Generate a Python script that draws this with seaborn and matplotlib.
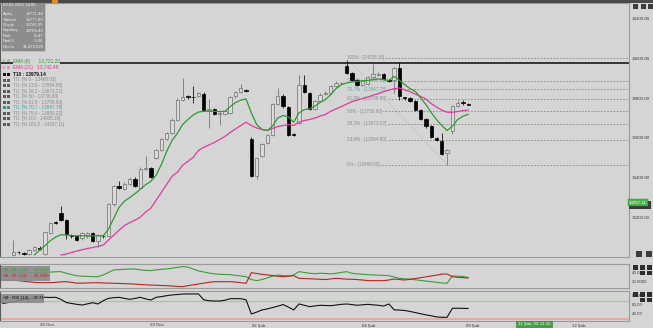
import numpy as np
import pandas as pd
import matplotlib
matplotlib.use("Agg")
import matplotlib.pyplot as plt
import matplotlib.transforms as mtransforms
from matplotlib.patches import Rectangle
import seaborn as sns

nan = np.nan

# ---------------- data ----------------
opens = [13015, 13030, 13026, 13018.5, 13040, 13052, 13020, 13123.5, 13180, 13225,
         13190, 13113, 13108.5, 13098.5, 13108.5, 13123.5, 13083.5, 13112, 13111.5, 13270,
         13361, 13348.5, 13373.5, 13398.5, 13353.5, 13446, 13453.5, 13503.5, 13541.5, 13598.5,
         13625, 13691.5, 13795, 13812, 13810, 13815, 13825, 13741.5, 13748.5, 13722,
         13725, 13728.5, 13811.5, 13831.5, 13845, 13598.5, 13411.5, 13511.5, 13575, 13615,
         13773.5, 13815, 13756.5, 13620, 13678.5, 13870, 13828.5, 13748.5, 13786.5, 13823.5,
         13828.5, 13865, 13876, 13961.5, 13928.5, 13891.5, 13870, 13875, 13908.5, 13920,
         13925, 13895, 13895, 13953.5, 13806, 13803.5, 13786.5, 13745, 13698.5, 13665,
         13601.5, 13586.5, 13528.5, 13636.5, 13765, 13783, 13771.44]
highs = [13091.5, 13036, 13030, 13046, 13060, 13058, 13133, 13180, 13186, 13261.5,
         13195, 13118, 13112, 13133, 13130, 13130, 13122, 13116, 13276, 13368,
         13386.5, 13379, 13405, 13405, 13455, 13511.5, 13458, 13546, 13601, 13631,
         13701, 13801, 13903.5, 13820, 13861.5, 13835, 13831, 13798.5, 13752, 13733,
         13742, 13813, 13838, 13875, 13850, 13605, 13508, 13578, 13620, 13778,
         13853.5, 13822, 13762, 13625, 13920, 13920, 13835, 13792, 13826, 13838,
         13870, 13888, 13882, 13995, 13935, 13898, 13895, 13913, 13975, 13932,
         13930, 13900, 13960, 13981.5, 13810, 13808, 13792, 13750, 13703, 13670,
         13605, 13628.5, 13548, 13768, 13791.5, 13795, 13777.83]
lows = [13010, 13022, 13016, 13014, 13036, 13042, 13015, 13118, 13170, 13188,
        13095, 13102, 13085, 13090, 13100, 13080, 13053.5, 13100, 13105, 13262,
        13345, 13343, 13368, 13356, 13350, 13440, 13404, 13498, 13537, 13593,
        13620, 13687, 13790, 13800, 13780, 13810, 13740, 13653.5, 13720, 13670,
        13720, 13722, 13805, 13828, 13832, 13405, 13395, 13507, 13570, 13611,
        13770, 13755, 13611, 13611, 13672, 13827, 13742, 13742, 13782, 13818,
        13822, 13860, 13872, 13922, 13890, 13865, 13865, 13870, 13903, 13915,
        13895, 13885, 13828.5, 13795, 13795, 13782, 13740, 13692, 13655, 13603,
        13588, 13515, 13468, 13620, 13760, 13770, 13765.95]
closes = [13031.5, 13028, 13021, 13040, 13053.5, 13047, 13128.5, 13173.5, 13176, 13191.5,
          13120, 13110, 13091.5, 13125, 13123.5, 13086.5, 13116.5, 13108, 13270, 13361.5,
          13352, 13373.5, 13398.5, 13361.5, 13448.5, 13451, 13408.5, 13540, 13595, 13625,
          13695, 13795, 13808.5, 13808, 13806, 13828.5, 13745, 13745, 13725, 13728,
          13736.5, 13808.5, 13831.5, 13853.5, 13836.5, 13411.5, 13503.5, 13573.5, 13615, 13773.5,
          13815, 13761.5, 13616.5, 13616, 13870, 13831.5, 13748.5, 13786.5, 13820, 13828.5,
          13865, 13878.5, 13878, 13928.5, 13895, 13870, 13886.5, 13908.5, 13925, 13925,
          13900, 13890, 13953.5, 13811.5, 13803, 13786.5, 13745, 13698.5, 13661.5, 13608.5,
          13591.5, 13520, 13541.5, 13761.5, 13778.5, 13778, 13769.43]

ema8 = [nan, nan, nan, nan,
        13015, 13040, 13062, 13087, 13105, 13117, 13115, 13112.5, 13111.5, 13111.5,
        13111.5, 13111.5, 13111.5, 13111.5, 13145, 13200, 13255, 13285, 13303.5, 13322.5,
        13345, 13367.5, 13385, 13415, 13470, 13535, 13590, 13625, 13670, 13695,
        13717.5, 13732.5, 13736.5, 13736.5, 13736.5, 13735, 13736.5, 13760, 13780, 13792.5,
        13798.5, 13728.5, 13670, 13645, 13640, 13661.5, 13703.5, 13715, 13708.5, 13681.5,
        13728.5, 13745, 13748.5, 13761.5, 13781.5, 13795, 13820, 13850, 13870, 13878.5,
        13883.5, 13886.5, 13890, 13891.5, 13895, 13898.5, 13895, 13891.5, 13911.5, 13891.5,
        13870, 13850, 13836.5, 13803.5, 13770, 13730, 13695, 13665, 13640, 13661.5,
        13695, 13711.5, 13721.23]
ema21 = [nan, nan, nan, nan, nan, nan, nan, nan, nan,
         13015, 13020, 13027.5, 13035, 13041.5, 13047.5, 13052.5, 13058.5, 13065, 13090,
         13115, 13140, 13162.5, 13177.5, 13190, 13205, 13230, 13250, 13290, 13330,
         13370, 13410, 13430, 13465, 13485, 13505, 13540, 13555, 13567.5, 13580,
         13595, 13610, 13630, 13647.5, 13665, 13681.5, 13665, 13652.5, 13645, 13640,
         13650, 13660, 13665, 13670, 13665, 13682.5, 13690, 13695, 13702.5, 13712.5,
         13720, 13736.5, 13748.5, 13760, 13772.5, 13785, 13792.5, 13800, 13807.5, 13817.5,
         13825, 13835, 13842.5, 13850, 13853.5, 13843.5, 13835, 13822.5, 13811.5, 13797.5,
         13775, 13757.5, 13742.5, 13731.5, 13731.5, 13735, 13740, 13742.48]

ind_bars = list(range(-2, 87))
di_plus = [43.8, 43.5, 43, 42.6, 42.3, 42, 41.7, 41.4, 42, 42.8, 43.5, 43.8, 40, 37, 34,
           33, 32.5, 32, 31.9, 36, 42, 48, 48.5, 49.5, 50, 50.2, 48, 47, 46.2, 48,
           49.5, 50.2, 52, 54, 55.7, 54.5, 50, 45.5, 43, 40.5, 38.5, 37.5, 37, 36.7, 35,
           33.5, 32, 25, 22.4, 25, 29, 33, 36, 34.5, 33.6, 36, 43.8, 42, 40, 39,
           40, 39.5, 38.5, 40, 42, 43.8, 40, 38.5, 37.5, 36.7, 36, 35.5, 35, 34.3, 31,
           28, 27, 26, 24.5, 23, 21.5, 20, 18.5, 17, 16.2, 33.6, 33, 32.5, 30.05]
di_minus = [24, 23.5, 23, 22.4, 21, 19.5, 18.5, 17.6, 17.6, 17.6, 18.5, 19.5, 20, 18.5, 16.5,
            16.5, 17, 17.5, 17.6, 17, 16.5, 16.2, 15.8, 15.3, 14.8, 14.2, 13.3, 12.5, 12, 11.5,
            11, 10.5, 9.7, 8.8, 8.1, 10.5, 12.5, 14.5, 16.5, 18.5, 20, 20, 20, 20, 19,
            17.5, 16.2, 41.4, 39.5, 37.5, 36, 34.5, 33, 31.9, 33, 34.3, 28, 27.5, 27, 26.4,
            25.7, 25, 26.5, 28, 27, 26, 25.7, 25, 24, 22.5, 22.4, 22.4, 22.4, 24, 26.4,
            25, 24, 25.5, 27.5, 29.5, 31.5, 33.6, 35.5, 38, 38.3, 31.9, 30.5, 29.5, 28.78]
rsi = [64, 66, 68, 70, 72, 74, 76, 77, 77.5, 77, 77.5, 73, 66, 64, 62,
       60.6, 63, 65.6, 62.8, 70, 75.2, 76.5, 77.4, 75, 73, 75, 77.4, 74, 71.5, 77.4,
       79, 81, 82.5, 83.5, 84.5, 84.7, 84.7, 84.7, 72, 70, 69.3, 69.3, 71, 74.4, 74.4,
       74.4, 72, 41, 45, 49.8, 52, 55, 58, 61.5, 56, 49.8, 62.8, 60, 57, 58.5,
       60, 59.5, 59.1, 60.5, 62, 62.8, 61.5, 60, 61, 62, 61, 60, 58.4, 62.8, 50,
       49.5, 48.5, 46.5, 44, 41.5, 39, 37, 34.5, 33.7, 33.7, 53.4, 53.5, 53.2, 53]

fib_pcts = ["0", "23.6", "38.2", "50", "61.8", "70.7", "78.6", "100", "161.8"]
fib_vals = [13468.03, 13594.80, 13673.22, 13736.60, 13799.98, 13847.78, 13890.22, 14005.16, 14337.11]
t10_level = 13979.14
price_ticks = [14200, 14000, 13800, 13600, 13400, 13200]
date_labels = ["28 Oca", "29 Oca", "02 Şub", "04 Şub", "09 Şub", "12 Şub"]
date_bars = [6.4, 27.2, 46.3, 67.1, 86.9, 106.9]
info_labels = ["Açılış", "Yüksek", "Düşük", "Kapanış", "Fark", "Fark%", "Hacim"]
info_values = ["13771.44", "13777.83", "13765.95", "13769.43", "-8.47", "-0.06", "31,473,620"]

# ---------------- style ----------------
sns.set_theme(style="white")
plt.rcParams['font.family'] = ['Liberation Sans', 'DejaVu Sans']

W, H = 653, 328
BG = '#d5d5d5'
fig = plt.figure(figsize=(W / 100, H / 100), dpi=100, facecolor=BG)

def fx(x):
    return x / W

def fy(y):
    return 1 - y / H

def axes_px(x0, y0, x1, y1):
    a = fig.add_axes([fx(x0), fy(y1), (x1 - x0) / W, (y1 - y0) / H])
    a.set_facecolor(BG)
    return a

def rect_px(x, y, w, h, fc, ec='none', lw=0.0, alpha=1.0, z=5):
    fig.patches.append(Rectangle((fx(x), fy(y + h)), w / W, h / H, transform=fig.transFigure,
                                 facecolor=fc, edgecolor=ec, linewidth=lw, alpha=alpha,
                                 zorder=z, figure=fig))

def ftext(x, y, s, **kw):
    kw.setdefault('fontsize', 3.4)
    kw.setdefault('va', 'center')
    kw.setdefault('zorder', 8)
    fig.text(fx(x), fy(y), s, **kw)

PX0, PXS = 13.3, 5.29

def bar_at_px(x):
    return (x - PX0) / PXS

xlim = (bar_at_px(0), bar_at_px(629))
YLIM = (13005, 14280)

ax = axes_px(0, 3, 629, 257)
ax1 = axes_px(0, 264, 629, 288)
ax2 = axes_px(0, 291, 629, 321)

for a in (ax, ax1, ax2):
    a.set_xlim(*xlim)
    a.set_xticks([])
    a.set_yticks([])
    for side, sp in a.spines.items():
        sp.set_visible(True)
        sp.set_color('#9a9a9a')
        sp.set_linewidth(0.8)
    a.spines['left'].set_color('#5a5a5a')

ax.set_ylim(*YLIM)
ax1.set_ylim(5, 62)
ax2.set_ylim(25.6, 91.2)

# ---------------- main panel ----------------
bars = np.arange(len(opens))
o = np.array(opens); c = np.array(closes); h = np.array(highs); l = np.array(lows)
up = c >= o
body_lo = np.minimum(o, c)
body_h = np.maximum(np.abs(c - o), 4)

# fibonacci lines and labels
fib_start = bar_at_px(347)
for p, v in zip(fib_pcts, fib_vals):
    if not (YLIM[0] < v < YLIM[1]):
        continue
    col = '#57a9a9' if p == "70.7" else '#8c8c8c'
    ax.hlines(v, fib_start, xlim[1], colors=col, linestyles=(0, (2.2, 1.6)), linewidth=0.6, zorder=1)
    ax.text(fib_start, v, f"{p}% - [{v:.2f}]", fontsize=3.3, color=col, va='center', ha='left',
            zorder=2, clip_on=True, bbox=dict(boxstyle='square,pad=0.15', fc=BG, ec='none'))
ax.plot([63, 82], [fib_vals[7], fib_vals[0]], color='#b3b3b3', linestyle=':', linewidth=0.7, zorder=1)

# T10 horizontal line
ax.axhline(t10_level, color='#1a1a1a', linewidth=1.2, zorder=2)

# candles
ax.vlines(bars[up], l[up], h[up], color='#767676', linewidth=0.6, zorder=3)
ax.vlines(bars[~up], l[~up], h[~up], color='#111111', linewidth=0.6, zorder=3)
ax.bar(bars[up], body_h[up], bottom=body_lo[up], width=0.64, color='#dadada',
       edgecolor='#6e6e6e', linewidth=0.5, zorder=4)
ax.bar(bars[~up], body_h[~up], bottom=body_lo[~up], width=0.64, color='#000000',
       edgecolor='#000000', linewidth=0.5, zorder=4)

# EMAs with seaborn
ema_df = pd.DataFrame({'bar': bars, 'ema8': ema8, 'ema21': ema21})
d8 = ema_df.dropna(subset=['ema8'])
d21 = ema_df.dropna(subset=['ema21'])
sns.lineplot(x=d21['bar'], y=d21['ema21'], ax=ax, color='#e03c9c', linewidth=0.9, zorder=5)
sns.lineplot(x=d8['bar'], y=d8['ema8'], ax=ax, color='#2f9a2f', linewidth=0.9, zorder=6)
ax.set_xlabel(''); ax.set_ylabel('')

# price axis labels
tr = mtransforms.blended_transform_factory(ax.transAxes, ax.transData)
for p in price_ticks:
    ax.text(1.004, p, f"{p:.2f}", transform=tr, fontsize=3.2, va='center', ha='left',
            color='#3a3a3a', clip_on=False)

# ---------------- indicator panels ----------------
ind_df = pd.DataFrame({'bar': ind_bars, 'dip': di_plus, 'dim': di_minus, 'rsi': rsi})
sns.lineplot(data=ind_df, x='bar', y='dip', ax=ax1, color='#3c9b3c', linewidth=0.8)
sns.lineplot(data=ind_df, x='bar', y='dim', ax=ax1, color='#b52424', linewidth=0.8)
ax1.set_xlabel(''); ax1.set_ylabel('')

ax2.axhline(70, color='#8fd38f', linewidth=0.9, zorder=1)
ax2.axhline(30, color='#eaa6a6', linewidth=1.4, zorder=1)
sns.lineplot(data=ind_df, x='bar', y='rsi', ax=ax2, color='#111111', linewidth=0.8, zorder=3)
ax2.set_xlabel(''); ax2.set_ylabel('')

tr1 = mtransforms.blended_transform_factory(ax1.transAxes, ax1.transData)
ax1.text(1.004, 40, "40.00", transform=tr1, fontsize=3.2, va='center', ha='left', color='#3a3a3a', clip_on=False)
ax1.text(1.004, 20, "20.0000", transform=tr1, fontsize=3.2, va='center', ha='left', color='#3a3a3a', clip_on=False)
tr2 = mtransforms.blended_transform_factory(ax2.transAxes, ax2.transData)
for v in (80, 60, 40):
    ax2.text(1.004, v, f"{v:.2f}", transform=tr2, fontsize=3.2, va='center', ha='left',
             color='#3a3a3a', clip_on=False)

# date labels
for pos, lab in zip(date_bars, date_labels):
    ftext(PX0 + PXS * pos, 325.5, lab, fontsize=3.1, ha='center', color='#333333')
ftext(534, 324.5, "11 Şub '26 11:32", fontsize=3.2, ha='center', color='white',
      bbox=dict(boxstyle='square,pad=0.3', fc='#45a045', ec='#2e7d2e', lw=0.4))

# ---------------- overlays ----------------
rect_px(0, 0, W, 2.5, '#4a4a4a', z=1)
rect_px(52, 0, 6, 2.5, '#e08a2a', z=2)

# info box
rect_px(1.5, 2.5, 43.5, 48.5, '#8d8d8d', ec='#777777', lw=0.3, z=3)
ftext(3, 5.5, "09.02.2026 14:00", color='#f2f2f2', fontsize=3.1)
for i, (lab, val) in enumerate(zip(info_labels, info_values)):
    yy = 14.3 + i * 5.4
    ftext(3, yy, lab, color='#f2f2f2', fontsize=3.1)
    ftext(43.5, yy, val, color='#f2f2f2', fontsize=3.1, ha='right')

# legend rows
ftext(2.5, 61.3, "✕ ⚙", color='#2f9a2f', fontsize=3.0)
ftext(13, 61.3, "EMA (8)      13,721.23", color='#2f9a2f', fontsize=3.4,
      bbox=dict(boxstyle='square,pad=0.1', fc=BG, ec='none'))
ftext(2.5, 67.7, "✕ ⚙", color='#d9389a', fontsize=3.0)
ftext(13, 67.7, "EMA (21)   13,742.48", color='#d9389a', fontsize=3.4)
rect_px(2.5, 72.8, 3, 3, '#111111')
rect_px(7, 72.8, 3, 3, '#111111')
ftext(13, 74.3, "T10 : 13979.14", color='#111111', fontsize=3.4, fontweight='bold')
for i, (p, v) in enumerate(zip(fib_pcts, fib_vals)):
    yy = 80 + i * 5.55
    col = '#3f9f9f' if p == "70.7" else '#8a8a8a'
    sq = '#3f8f8f' if p == "70.7" else '#5a5a5a'
    rect_px(2.5, yy - 1.5, 3, 3, sq)
    rect_px(7, yy - 1.5, 3, 3, sq)
    ftext(13, yy, f"TO: [% {p} - {v:.2f}]", color=col, fontsize=3.3)

# last price tag
rect_px(629, 201, 22, 8, '#3a3a3a', z=4)
ftext(638, 202.5, "13257.11", color='white', fontsize=3.2, ha='center', zorder=9,
      bbox=dict(boxstyle='square,pad=0.25', fc='#4fb04f', ec='#2e8a2e', lw=0.3))

# panel legends
rect_px(1, 266, 49, 15, '#8a8a8a', alpha=0.9, z=3)
ftext(3, 270.3, "✕⚙", color='#3c9b3c', fontsize=2.8)
ftext(12, 270.3, "DI+ (14)", color='#3c9b3c', fontsize=3.2)
ftext(34, 270.3, "30.0456", color='#3c9b3c', fontsize=3.2)
ftext(3, 276.3, "✕⚙", color='#b52424', fontsize=2.8)
ftext(12, 276.3, "DI- (14)", color='#b52424', fontsize=3.2)
ftext(34, 276.3, "28.7800", color='#b52424', fontsize=3.2)
rect_px(1, 293.5, 43, 9, '#8a8a8a', alpha=0.9, z=3)
ftext(3, 297.6, "✕⚙", color='#111111', fontsize=2.8)
ftext(12, 297.6, "RSI (14)", color='#111111', fontsize=3.2)
ftext(34, 297.6, "57.71", color='#111111', fontsize=3.2)

# buttons
for x0, y0 in [(633, 4), (641, 4), (648, 4)]:
    rect_px(x0, y0, 4.5, 4.5, '#3d3d3d', z=4)
for x0, y0 in [(636, 251), (646, 251)]:
    rect_px(x0, y0, 5.5, 5.5, '#3d3d3d', z=4)
for base in (265, 292):
    for x0 in (633, 640, 647):
        rect_px(x0, base, 4.5, 4.5, '#2d2d2d', z=4)
    for x0 in (640, 647):
        rect_px(x0, base + 5.5, 4.5, 4.5, '#2d2d2d', z=4)

fig.savefig("out.png", dpi=100, facecolor=BG)
